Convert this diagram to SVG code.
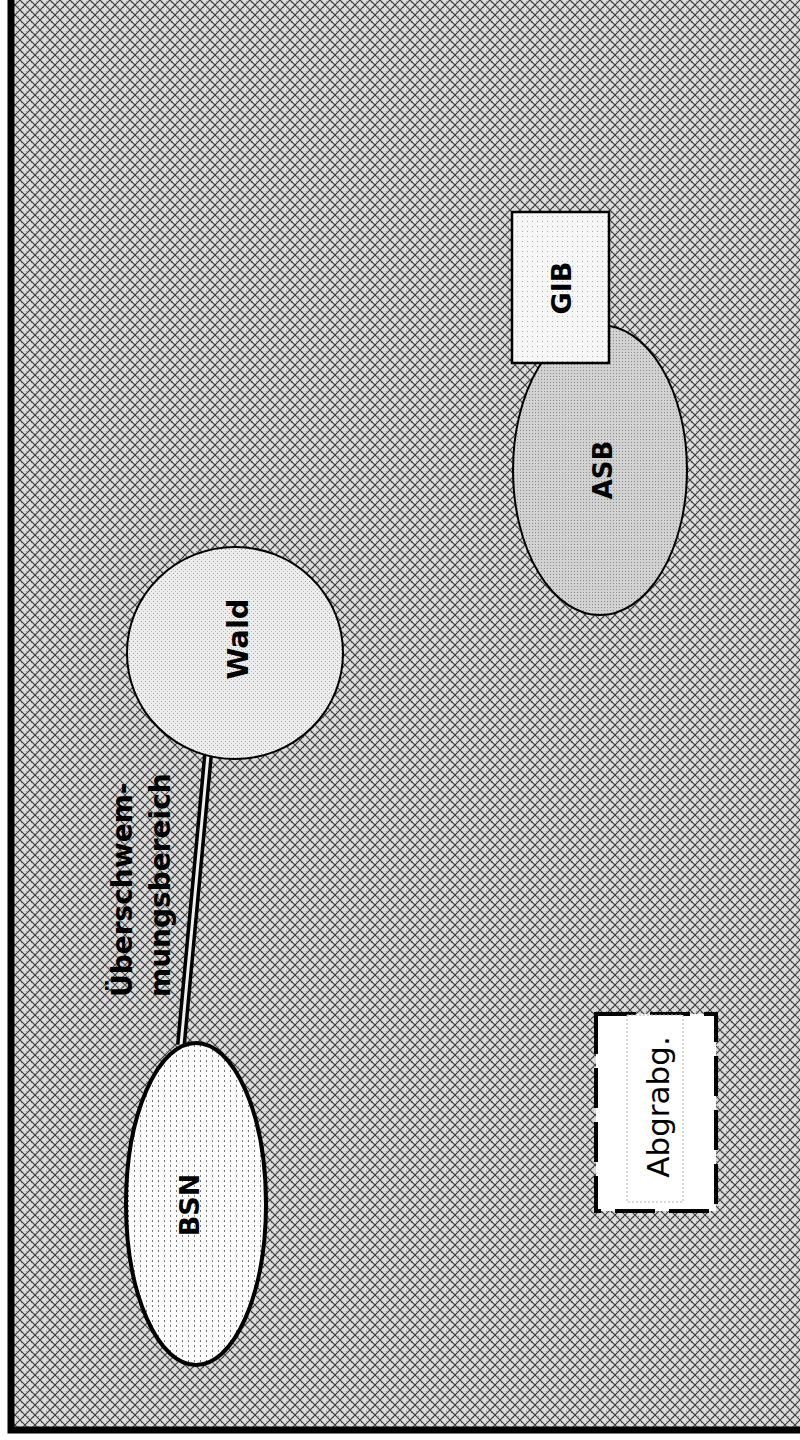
<svg xmlns="http://www.w3.org/2000/svg" width="800" height="1440" viewBox="0 0 800 1440">
  <defs>
    <pattern id="hatch" width="10" height="10" patternUnits="userSpaceOnUse">
      <rect width="10" height="10" fill="#dcdcdc"/>
      <rect x="1" y="2" width="1" height="1" fill="#777"/>
      <rect x="6" y="1" width="1" height="1" fill="#888"/>
      <rect x="3" y="7" width="1" height="1" fill="#777"/>
      <rect x="8" y="6" width="1" height="1" fill="#888"/>
      <path d="M0,0 L10,10 M10,0 L0,10" stroke="#3a3a3a" stroke-width="1.1"/>
    </pattern>
    <pattern id="stipLight" width="4" height="4" patternUnits="userSpaceOnUse">
      <rect width="4" height="4" fill="#eeeeee"/>
      <rect x="1" y="1" width="1" height="1" fill="#9a9a9a"/>
      <rect x="3" y="3" width="1" height="1" fill="#b5b5b5"/>
    </pattern>
    <pattern id="stipMid" width="3" height="3" patternUnits="userSpaceOnUse">
      <rect width="3" height="3" fill="#d2d2d2"/>
      <rect x="1" y="1" width="1" height="1" fill="#8a8a8a"/>
    </pattern>
    <pattern id="stipPale" width="5" height="5" patternUnits="userSpaceOnUse">
      <rect width="5" height="5" fill="#f6f6f6"/>
      <rect x="2" y="1" width="1" height="1" fill="#aaaaaa"/>
    </pattern>
    <pattern id="vdots" width="6" height="5" patternUnits="userSpaceOnUse">
      <rect width="6" height="5" fill="#ffffff"/>
      <rect x="2" y="0" width="1" height="2" fill="#777"/>
    </pattern>
  </defs>
  <style>
    .lbl { font-family: "DejaVu Sans", "Liberation Sans", sans-serif; font-weight: bold; fill: #000; }
    .reg { font-family: "DejaVu Sans", "Liberation Sans", sans-serif; font-weight: normal; fill: #000; }
  </style>

  <rect id="background" x="11" y="-10" width="800" height="1440" fill="url(#hatch)" stroke="#000" stroke-width="7"/>

  <g id="connectors">
    <line x1="208" y1="755" x2="181" y2="1045" stroke="#000" stroke-width="10"/>
    <line x1="208" y1="755" x2="181" y2="1045" stroke="#f0f0f0" stroke-width="3"/>
  </g>

  <g id="label-ueberschwemmung">
    <text class="lbl" font-size="28" transform="translate(132,997) rotate(-90)">Überschwem-</text>
    <text class="lbl" font-size="28" transform="translate(170,997) rotate(-90)">mungsbereich</text>
  </g>

  <g id="wald">
    <ellipse cx="235" cy="653" rx="108" ry="106" fill="url(#stipLight)" stroke="#000" stroke-width="2"/>
    <text class="lbl" font-size="29" text-anchor="middle" transform="translate(248,639) rotate(-90)">Wald</text>
  </g>

  <g id="bsn">
    <ellipse cx="196" cy="1204" rx="70" ry="161" fill="url(#vdots)" stroke="#000" stroke-width="4"/>
    <text class="lbl" font-size="27" text-anchor="middle" transform="translate(199,1205) rotate(-90)">BSN</text>
  </g>

  <g id="asb">
    <ellipse cx="600" cy="470" rx="87" ry="145" fill="url(#stipMid)" stroke="#000" stroke-width="2"/>
    <text class="lbl" font-size="26" text-anchor="middle" transform="translate(612,470) rotate(-90)">ASB</text>
  </g>

  <g id="gib">
    <rect x="512" y="212" width="97" height="151" fill="url(#stipPale)" stroke="#000" stroke-width="2.5"/>
    <text class="lbl" font-size="27" text-anchor="middle" transform="translate(571,288) rotate(-90)">GIB</text>
  </g>

  <g id="abgrabg">
    <rect x="596" y="1014" width="120" height="197" fill="#ffffff" stroke="#000" stroke-width="4" stroke-dasharray="40 14"/>
    <rect x="627" y="1015" width="56" height="187" fill="#ffffff" stroke="#b0b0b0" stroke-width="1" stroke-dasharray="2 2"/>
    <text class="reg" font-size="31" text-anchor="middle" transform="translate(669,1107) rotate(-90)">Abgrabg.</text>
  </g>
</svg>
